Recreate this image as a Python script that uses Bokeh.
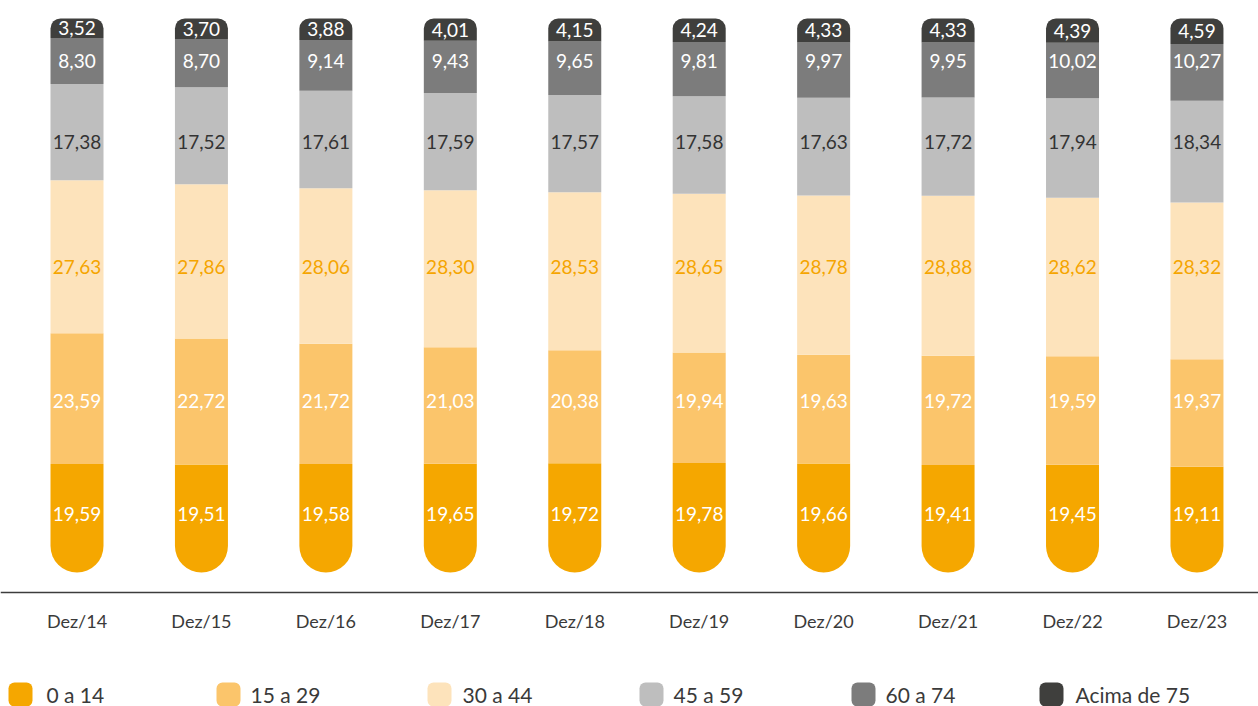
from bokeh.plotting import figure
from bokeh.models import Range1d, Span, ColumnDataSource
from bokeh.core.properties import value
from bokeh.embed import file_html
from bokeh.resources import INLINE

# ---------------- data ----------------
periods = ["Dez/14", "Dez/15", "Dez/16", "Dez/17", "Dez/18",
           "Dez/19", "Dez/20", "Dez/21", "Dez/22", "Dez/23"]
series_names = ["0 a 14", "15 a 29", "30 a 44", "45 a 59", "60 a 74", "Acima de 75"]
age_0_14 = [19.59, 19.51, 19.58, 19.65, 19.72, 19.78, 19.66, 19.41, 19.45, 19.11]
age_15_29 = [23.59, 22.72, 21.72, 21.03, 20.38, 19.94, 19.63, 19.72, 19.59, 19.37]
age_30_44 = [27.63, 27.86, 28.06, 28.30, 28.53, 28.65, 28.78, 28.88, 28.62, 28.32]
age_45_59 = [17.38, 17.52, 17.61, 17.59, 17.57, 17.58, 17.63, 17.72, 17.94, 18.34]
age_60_74 = [8.30, 8.70, 9.14, 9.43, 9.65, 9.81, 9.97, 9.95, 10.02, 10.27]
age_75_up = [3.52, 3.70, 3.88, 4.01, 4.15, 4.24, 4.33, 4.33, 4.39, 4.59]
series_values = [age_0_14, age_15_29, age_30_44, age_45_59, age_60_74, age_75_up]

# ---------------- style ----------------
colors = ["#F5A700", "#FBC56B", "#FDE3BB", "#BEBEBE", "#7C7C7C", "#3F3F3D"]
label_colors = ["white", "white", "#F5A500", "#333333", "white", "white"]
FONT = value("Lato")

ORIGIN = 0             # page offset of the figure
W, H = 1258, 706
PX_X = 124.44          # pixels per category
FIRST_CX = 76.5        # px from left of frame to first bar centre
PX_Y = 5.54            # pixels per percentage point
ZERO_Y = 572           # px from top of frame to y=0
LABEL_ROWS = [513, 400, 266, 141, 60, None]   # value-label rows (page px); None = segment centre

x_start = -FIRST_CX / PX_X
x_end = x_start + W / PX_X
y_start = -(H - ZERO_Y) / PX_Y
y_end = y_start + H / PX_Y


def px(page_x):
    return x_start + (page_x - ORIGIN) / PX_X


def py(page_y):
    return y_start + (H - (page_y - ORIGIN)) / PX_Y


p = figure(width=W, height=H, output_backend="svg", toolbar_location=None,
           x_range=Range1d(x_start, x_end), y_range=Range1d(y_start, y_end),
           min_border=0, min_border_left=0, min_border_right=0,
           min_border_top=0, min_border_bottom=0)
p.axis.visible = False
p.grid.visible = False
p.outline_line_color = None
p.background_fill_color = "white"
p.border_fill_color = "white"

idx = list(range(len(periods)))
bar_w = 53.0 / PX_X

cum = [0.0] * len(periods)
n = len(series_values)
for k, vals in enumerate(series_values):
    bottoms = cum[:]
    tops = [b + v for b, v in zip(bottoms, vals)]
    cum = tops
    if k == 0:
        br = (0, 0, 27, 27)
    elif k == n - 1:
        br = (10, 10, 0, 0)
    else:
        br = 0
    if LABEL_ROWS[k] is None:
        ly = [(b + t) / 2 for b, t in zip(bottoms, tops)]
    else:
        ly = [py(LABEL_ROWS[k])] * len(vals)
    src = ColumnDataSource(dict(x=idx, bottom=bottoms, top=tops, ly=ly,
                                lab=[f"{v:.2f}".replace(".", ",") for v in vals]))
    p.vbar(x="x", bottom="bottom", top="top", width=bar_w, source=src,
           fill_color=colors[k], line_color=None, border_radius=br)
    p.text(x="x", y="ly", text="lab", source=src,
           text_font=FONT, text_font_size="19px", text_color=label_colors[k],
           text_align="center", text_baseline="middle")

# baseline
p.add_layout(Span(location=py(592), dimension="width",
                  line_color="#3c3c3c", line_width=1.3))

# category labels
p.text(x=idx, y=[py(620)] * len(idx), text=periods, text_font=FONT,
       text_font_size="18px", text_color="#3a3a3a", text_align="center",
       text_baseline="middle")

# legend
marker_cx = [20, 228, 439, 651, 863, 1051]
text_x = [46, 250, 462, 673, 885, 1075]
p.rect(x=[px(c) for c in marker_cx], y=[py(694)] * 6, width=24, height=24,
       width_units="screen", height_units="screen", fill_color=colors,
       line_color=None, border_radius=6)
p.text(x=[px(t) for t in text_x], y=[py(694)] * 6, text=series_names,
       text_font=FONT, text_font_size="21px", text_color="#3a3a3a",
       text_align="left", text_baseline="middle")

open("out.html", "w").write(file_html(p, INLINE))
